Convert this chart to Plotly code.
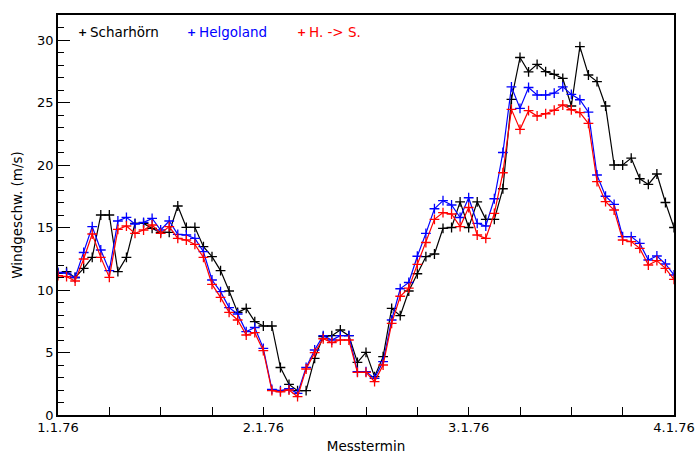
import pandas as pd
import plotly.graph_objects as go

# hourly measurement times 1.1.76 00h .. 4.1.76 00h
times = pd.date_range("1976-01-01 00:00", "1976-01-04 00:00", freq="h")

scharhoern = [11.33, 11.47, 11.0, 11.73, 12.61, 16.0, 16.0, 11.47, 12.61, 15.33,
              15.33, 14.93, 14.61, 14.61, 16.72, 15.01, 15.01, 13.47, 12.67, 11.55,
              9.92, 8.21, 8.53, 7.47, 7.12, 7.12, 3.8, 2.45, 1.95, 1.95,
              4.53, 6.27, 6.35, 6.8, 6.35, 4.21, 5.01, 3.07, 4.67, 8.53,
              7.95, 9.92, 11.3, 12.67, 12.88, 14.93, 15.0, 17.05, 15.0, 17.05,
              15.65, 15.65, 18.1, 25.25, 28.6, 27.45, 28.05, 27.47, 27.25, 26.93,
              24.72, 29.47, 27.2, 26.67, 24.72, 20.0, 20.0, 20.55, 18.9, 18.45,
              19.28, 17.0, 15.0]

helgoland = [11.4, 11.35, 11.0, 13.0, 15.07, 13.2, 11.55, 15.52, 15.81, 15.28,
             15.41, 15.73, 14.8, 15.52, 14.45, 14.4, 14.13, 13.07, 10.8, 9.87,
             8.59, 8.08, 6.67, 7.0, 5.33, 2.05, 1.95, 2.1, 1.73, 3.81,
             5.2, 6.35, 6.0, 6.35, 6.35, 3.47, 3.47, 2.93, 4.27, 7.6,
             10.1, 10.6, 12.7, 14.53, 16.5, 17.15, 16.8, 15.8, 17.38, 15.33,
             15.12, 17.3, 21.0, 26.25, 24.53, 26.2, 25.6, 25.6, 25.75, 26.25,
             25.65, 25.22, 24.23, 19.2, 17.5, 16.85, 14.27, 14.27, 13.73, 12.4,
             12.72, 12.08, 11.2]

h_to_s = [11.15, 11.07, 10.72, 12.48, 14.48, 12.61, 11.01, 14.85, 15.12, 14.53,
          14.8, 15.2, 14.53, 15.07, 14.13, 14.0, 13.65, 12.61, 10.45, 9.41,
          8.21, 7.6, 6.4, 6.59, 5.15, 1.95, 1.85, 2.0, 1.47, 3.68,
          4.99, 6.1, 5.79, 6.0, 6.0, 3.41, 3.41, 2.67, 4.0, 7.33,
          9.5, 10.15, 12.05, 13.8, 15.65, 16.19, 16.08, 15.07, 16.6, 14.4,
          14.13, 16.13, 19.38, 24.45, 22.85, 24.35, 23.92, 24.1, 24.38, 24.8,
          24.42, 24.19, 23.33, 18.67, 17.07, 16.4, 14.0, 13.87, 13.33, 12.0,
          12.35, 11.73, 10.85]

series_names = ["Scharhörn", "Helgoland", "H. -> S."]
series_colors = ["#000000", "#0000ff", "#ff0000"]
series_values = [scharhoern, helgoland, h_to_s]

FONT = "DejaVu Sans"
FS = 13.5
TFS = 13

fig = go.Figure()
for name, col, vals in zip(series_names, series_colors, series_values):
    fig.add_trace(go.Scatter(
        x=times, y=vals, name=name, mode="lines+markers",
        line=dict(color=col, width=1.2),
        marker=dict(symbol="cross-thin", size=7, line=dict(color=col, width=1.3), color=col),
        showlegend=False,
    ))

# legend drawn as text, like the original
leg_plus_x = [0.039, 0.217, 0.395]
leg_text_x = [0.049, 0.226, 0.405]
for name, col, px, tx in zip(series_names, series_colors, leg_plus_x, leg_text_x):
    fig.add_annotation(x=px, y=0.957, xref="paper", yref="paper", text="<b>+</b>",
                       showarrow=False, xanchor="center", yanchor="middle",
                       font=dict(family=FONT, size=11, color=col))
    fig.add_annotation(x=tx, y=0.957, xref="paper", yref="paper", text=name,
                       showarrow=False, xanchor="left", yanchor="middle",
                       font=dict(family=FONT, size=FS, color=col))

tick_style = dict(ticks="inside", tickwidth=1, tickcolor="black")

fig.update_layout(
    width=697, height=454,
    margin=dict(l=58, r=23, t=15, b=39),
    paper_bgcolor="white", plot_bgcolor="white",
    font=dict(family=FONT, size=FS, color="black"),
    showlegend=False,
    xaxis=dict(
        range=[times[0], times[-1]], automargin=False, ticklabeloverflow="allow",
        showgrid=False, zeroline=False,
        showline=True, linecolor="black", linewidth=1.5, mirror=True,
        ticklen=8, **tick_style,
        dtick=86400000, tick0=times[0], tickformat="%-d.%-m.%y",
        minor=dict(dtick=21600000, ticklen=8, showgrid=False, **tick_style),
        title=dict(text="Messtermin", standoff=17, font=dict(family=FONT, size=FS)),
        tickfont=dict(family=FONT, size=TFS),
    ),
    xaxis2=dict(
        range=[times[0], times[-1]], overlaying="x", side="top", automargin=False,
        showgrid=False, zeroline=False, showline=False, showticklabels=False,
        ticklen=8, **tick_style, dtick=86400000, tick0=times[0],
        minor=dict(dtick=21600000, ticklen=8, showgrid=False, **tick_style),
    ),
    yaxis=dict(
        range=[0, 32], automargin=False, ticklabeloverflow="allow",
        showgrid=False, zeroline=False,
        showline=True, linecolor="black", linewidth=1.5, mirror=True,
        ticklen=12, **tick_style,
        dtick=5, tick0=0,
        minor=dict(dtick=1, ticklen=6, showgrid=False, **tick_style),
        title=dict(text="Windgeschw. (m/s)", standoff=11, font=dict(family=FONT, size=FS)),
        tickfont=dict(family=FONT, size=TFS),
    ),
    yaxis2=dict(
        range=[0, 32], overlaying="y", side="right", automargin=False,
        showgrid=False, zeroline=False, showline=False, showticklabels=False,
        ticklen=12, **tick_style, dtick=5, tick0=0,
        minor=dict(dtick=1, ticklen=6, showgrid=False, **tick_style),
    ),
)

fig.write_html(
    "out.html",
    config={"displayModeBar": False},
    post_script="document.body.style.margin='0';document.body.style.overflow='hidden';",
)
